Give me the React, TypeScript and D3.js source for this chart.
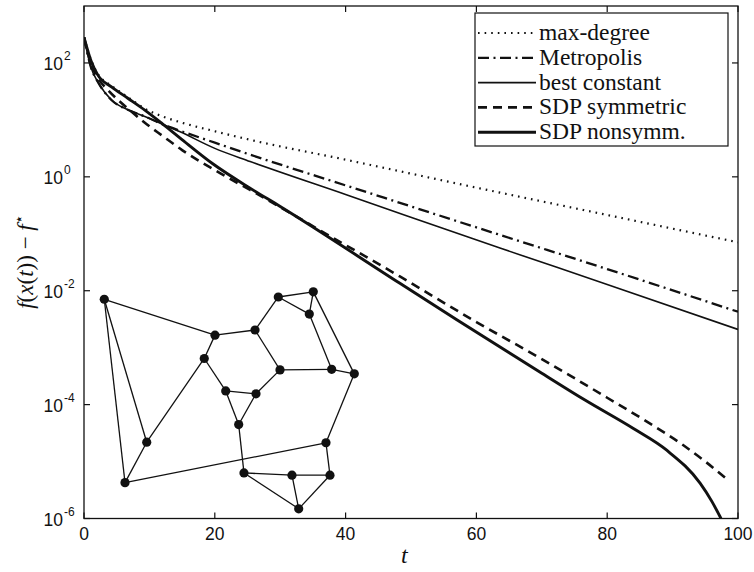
import React from "react";
import * as d3 from "d3";

// ---- data ----
const maxDegreeT = [0, 1.1, 2.1, 4.2, 6.7, 9.3, 12, 15, 20, 25.4, 40, 60, 80, 100];
const maxDegreeV = [282, 112, 64.6, 39.8, 25.1, 15.8, 11.5, 8.91, 6.31, 4.47, 2.0, 0.646, 0.214, 0.0708];

const metropolisT = [0, 1.1, 2.1, 4.2, 6.7, 9.3, 12.3, 13.7, 20, 25.4, 40, 63.6, 80, 100];
const metropolisV = [282, 81.3, 46.8, 22.4, 15.1, 11.5, 8.13, 7.08, 3.98, 2.45, 0.708, 0.0955, 0.024, 0.00427];

const bestConstT = [0, 1.1, 2.1, 4.2, 6.7, 9.3, 12.3, 14.7, 20, 25.4, 40, 63.6, 80, 100];
const bestConstV = [282, 81.3, 46.8, 22.4, 15.1, 11.5, 8.13, 6.17, 3.16, 1.86, 0.49, 0.0562, 0.0129, 0.00209];

const sdpSymT = [0, 1.1, 2.1, 3.7, 5.2, 7, 9.3, 12, 15, 20.8, 25.4, 37, 48.3, 60, 70, 80, 86.5, 91.6, 95, 98.5];
const sdpSymV = [282, 95.5, 55.0, 33.1, 22.4, 14.8, 8.91, 5.25, 2.95, 1.16, 0.589, 0.1, 0.0178, 0.00282, 6.31e-4, 1.32e-4, 4.68e-5, 1.95e-5, 1e-5, 4.68e-6];

const sdpNonT = [0, 1.1, 2.1, 4.2, 6.7, 9.3, 12, 14.7, 19.8, 25.4, 30, 48.3, 57, 70, 76.6, 84, 89.1, 94.2, 96, 97.4];
const sdpNonV = [282, 107, 61.7, 38.0, 24.0, 14.8, 8.51, 4.79, 1.66, 0.631, 0.302, 0.0135, 0.00309, 3.55e-4, 1.2e-4, 3.8e-5, 1.58e-5, 4.17e-6, 2.0e-6, 1e-6];

const seriesNames = ["max-degree", "Metropolis", "best constant", "SDP symmetric", "SDP nonsymm."];

const xTicks = [0, 20, 40, 60, 80, 100];
const yTickExps = [-6, -4, -2, 0, 2];

// inset graph: node positions in (t, log10 value) units
const nodeT = [3.1, 6.27, 9.59, 18.39, 20.03, 26.15, 29.71, 35.06, 34.45, 29.97, 37.87, 41.33, 21.67, 26.3, 23.65, 37.0, 24.46, 31.8, 37.61, 32.83];
const nodeE = [-2.15, -5.37, -4.66, -3.19, -2.78, -2.69, -2.11, -2.02, -2.41, -3.39, -3.38, -3.46, -3.76, -3.81, -4.35, -4.67, -5.2, -5.24, -5.24, -5.83];
const edgeFrom = [1, 1, 1, 2, 2, 3, 4, 4, 5, 6, 6, 7, 7, 8, 8, 9, 10, 11, 10, 13, 13, 14, 15, 12, 16, 17, 17, 18, 18, 19];
const edgeTo = [5, 3, 2, 3, 16, 4, 5, 13, 6, 7, 10, 8, 9, 9, 12, 11, 11, 12, 14, 14, 15, 15, 17, 16, 19, 18, 20, 19, 20, 20];

// ---- layout ----
const W = 754, H = 572;
const left = 84, right = 738, top = 6, bottom = 518.5;
const SERIF = "Liberation Serif, Times New Roman, DejaVu Serif, serif";
const SANS = "Liberation Sans, Arial, Helvetica, sans-serif";

export default function App() {
  const x = d3.scaleLinear().domain([0, 100]).range([left, right]);
  const y = d3.scaleLog().domain([1e-6, 1e3]).range([bottom, top]);
  const yE = d3.scaleLinear().domain([-6, 3]).range([bottom, top]);

  const line = d3
    .line<[number, number]>()
    .x((d) => x(d[0]))
    .y((d) => y(d[1]))
    .curve(d3.curveMonotoneX);

  const series = [
    { t: maxDegreeT, v: maxDegreeV, dash: "1.6 5", w: 2.2 },
    { t: metropolisT, v: metropolisV, dash: "11 4.5 2 4.5", w: 2.3 },
    { t: bestConstT, v: bestConstV, dash: "", w: 1.6 },
    { t: sdpSymT, v: sdpSymV, dash: "9 6", w: 2.6 },
    { t: sdpNonT, v: sdpNonV, dash: "", w: 2.9 },
  ];

  const tickLen = 6;
  const legX = 475, legY = 13, legW = 253, legH = 133;
  const legRow0 = 33, legStep = 24.8;

  return (
    <svg
      width={W}
      height={H}
      style={{ position: "absolute", left: 0, top: 0, background: "#fff" }}
    >
      <defs>
        <clipPath id="plot">
          <rect x={left} y={top} width={right - left} height={bottom - top} />
        </clipPath>
      </defs>
      <rect x={0} y={0} width={W} height={H} fill="#fff" />

      {/* inset graph */}
      <g stroke="#111" strokeWidth={1.3}>
        {edgeFrom.map((a, i) => {
          const b = edgeTo[i];
          return (
            <line
              key={"e" + i}
              x1={x(nodeT[a - 1])}
              y1={yE(nodeE[a - 1])}
              x2={x(nodeT[b - 1])}
              y2={yE(nodeE[b - 1])}
            />
          );
        })}
      </g>
      <g fill="#111">
        {nodeT.map((t, i) => (
          <circle key={"n" + i} cx={x(t)} cy={yE(nodeE[i])} r={4.6} />
        ))}
      </g>

      {/* curves */}
      <g clipPath="url(#plot)" fill="none" stroke="#111">
        {series.map((s, i) => (
          <path
            key={"s" + i}
            d={line(s.t.map((t, j) => [t, s.v[j]] as [number, number])) || ""}
            strokeWidth={s.w}
            strokeDasharray={s.dash || undefined}
            strokeLinecap="butt"
          />
        ))}
      </g>

      {/* frame */}
      <rect
        x={left}
        y={top}
        width={right - left}
        height={bottom - top}
        fill="none"
        stroke="#111"
        strokeWidth={1.3}
      />

      {/* ticks */}
      <g stroke="#111" strokeWidth={1.2}>
        {xTicks.map((t) => (
          <g key={"xt" + t}>
            <line x1={x(t)} x2={x(t)} y1={bottom} y2={bottom - tickLen} />
            <line x1={x(t)} x2={x(t)} y1={top} y2={top + tickLen} />
          </g>
        ))}
        {yTickExps.map((e) => (
          <g key={"yt" + e}>
            <line x1={left} x2={left + tickLen} y1={y(10 ** e)} y2={y(10 ** e)} />
            <line x1={right} x2={right - tickLen} y1={y(10 ** e)} y2={y(10 ** e)} />
          </g>
        ))}
      </g>

      <g fontFamily={SANS} fill="#111">
        {xTicks.map((t) => (
          <text key={"xl" + t} x={x(t)} y={bottom + 21} fontSize={17.5} textAnchor="middle">
            {t}
          </text>
        ))}
        {yTickExps.map((e) => (
          <g key={"yl" + e}>
            <text x={63} y={y(10 ** e) + 7} fontSize={17.5} textAnchor="end">
              10
            </text>
            <text x={64} y={y(10 ** e) - 3} fontSize={12}>
              {e < 0 ? "-" + Math.abs(e) : String(e)}
            </text>
          </g>
        ))}
      </g>

      {/* axis labels */}
      <text
        x={x(49)}
        y={563}
        fontFamily={SERIF}
        fontStyle="italic"
        fontSize={24}
        textAnchor="middle"
        fill="#111"
      >
        t
      </text>
      <text
        transform={`translate(33, 262) rotate(-90)`}
        fontFamily={SERIF}
        fontSize={23}
        textAnchor="middle"
        fill="#111"
      >
        <tspan fontStyle="italic">f</tspan>
        <tspan>(</tspan>
        <tspan fontStyle="italic">x</tspan>
        <tspan>(</tspan>
        <tspan fontStyle="italic">t</tspan>
        <tspan>)) − </tspan>
        <tspan fontStyle="italic">f</tspan>
        <tspan dy={-9} fontSize={15}>⋆</tspan>
      </text>

      {/* legend */}
      <rect
        x={legX}
        y={legY}
        width={legW}
        height={legH}
        fill="#fff"
        stroke="#111"
        strokeWidth={1.2}
      />
      {seriesNames.map((name, i) => {
        const yy = legRow0 + i * legStep;
        const s = series[i];
        return (
          <g key={"lg" + i}>
            <line
              x1={478}
              x2={536}
              y1={yy}
              y2={yy}
              stroke="#111"
              strokeWidth={s.w}
              strokeDasharray={s.dash || undefined}
            />
            <text x={539} y={yy + 7} fontFamily={SERIF} fontSize={23.5} fill="#111">
              {name}
            </text>
          </g>
        );
      })}
    </svg>
  );
}
